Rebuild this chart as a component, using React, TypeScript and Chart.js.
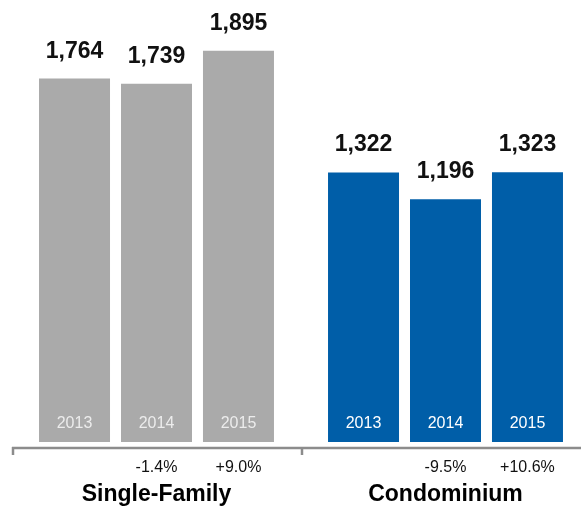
import React, { useEffect, useRef } from "react";
import { Chart, registerables } from "chart.js";

Chart.register(...registerables);

const categories = ["Single-Family", "Condominium"];
const years = ["2013", "2014", "2015"];
const values2013 = [1764, 1322];
const values2014 = [1739, 1196];
const values2015 = [1895, 1323];
const change2013 = ["", ""];
const change2014 = ["-1.4%", "-9.5%"];
const change2015 = ["+9.0%", "+10.6%"];

const GRAY = "#aaaaaa";
const BLUE = "#005ea8";
const FONT = "'Liberation Sans', Arial, Helvetica, sans-serif";

const seriesValues = [values2013, values2014, values2015];
const seriesChanges = [change2013, change2014, change2015];

const labelPlugin = {
  id: "customLabels",
  afterDatasetsDraw(chart: any) {
    const ctx = chart.ctx;
    const area = chart.chartArea;
    const xs = chart.scales.x;
    ctx.save();
    // axis line
    const axisY = area.bottom + 6;
    ctx.strokeStyle = "#8c8c8c";
    ctx.lineWidth = 2.5;
    ctx.beginPath();
    ctx.moveTo(area.left, axisY);
    ctx.lineTo(chart.width, axisY);
    ctx.stroke();
    const p0 = xs.getPixelForValue(0);
    const p1 = xs.getPixelForValue(1);
    const half = (p1 - p0) / 2;
    const bounds = [p0 - half, p0 + half, p1 + half];
    bounds.forEach((bx) => {
      ctx.beginPath();
      ctx.moveTo(bx + 1, axisY - 1);
      ctx.lineTo(bx + 1, axisY + 7);
      ctx.stroke();
    });

    chart.data.datasets.forEach((ds: any, di: number) => {
      const meta = chart.getDatasetMeta(di);
      meta.data.forEach((bar: any, i: number) => {
        const v = ds.data[i];
        // value label
        ctx.fillStyle = "#111111";
        ctx.font = `bold 23px ${FONT}`;
        ctx.textAlign = "center";
        ctx.textBaseline = "alphabetic";
        ctx.fillText(v.toLocaleString("en-US"), bar.x, bar.y - 21);
        // year inside bar
        ctx.font = `16px ${FONT}`;
        ctx.textBaseline = "middle";
        ctx.fillStyle = i === 0 ? "#ececec" : "#ffffff";
        ctx.fillText(years[di], bar.x, area.bottom - 18);
        // change label
        const ch = seriesChanges[di][i];
        if (ch) {
          ctx.fillStyle = "#111111";
          ctx.font = `16px ${FONT}`;
          ctx.fillText(ch, bar.x, area.bottom + 26);
        }
      });
    });

    ctx.fillStyle = "#000000";
    ctx.font = `bold 23px ${FONT}`;
    ctx.textAlign = "center";
    ctx.textBaseline = "middle";
    categories.forEach((c, i) => {
      ctx.fillText(c, xs.getPixelForValue(i), area.bottom + 53);
    });
    ctx.restore();
  },
};

export default function App() {
  const ref = useRef<HTMLCanvasElement>(null);
  useEffect(() => {
    document.body.style.margin = "0";
    const chart = new Chart(ref.current!, {
      type: "bar",
      data: {
        labels: categories,
        datasets: seriesValues.map((vals, di) => ({
          label: years[di],
          data: vals,
          backgroundColor: [GRAY, BLUE],
          borderWidth: 0,
          categoryPercentage: 0.851,
          barPercentage: 0.866,
        })),
      },
      options: {
        animation: false,
        responsive: false,
        maintainAspectRatio: false,
        events: [],
        layout: { padding: { left: 12, right: 10, top: 0, bottom: 67 } },
        plugins: { legend: { display: false }, tooltip: { enabled: false } },
        scales: {
          x: { display: false },
          y: { display: false, min: 52, max: 2134 },
        },
      },
      plugins: [labelPlugin],
    });
    return () => chart.destroy();
  }, []);
  return (
    <div style={{ position: "absolute", left: 0, top: 0, width: 581, height: 509, overflow: "hidden", background: "#fff" }}>
      <canvas ref={ref} width={600} height={509} style={{ display: "block" }} />
    </div>
  );
}
